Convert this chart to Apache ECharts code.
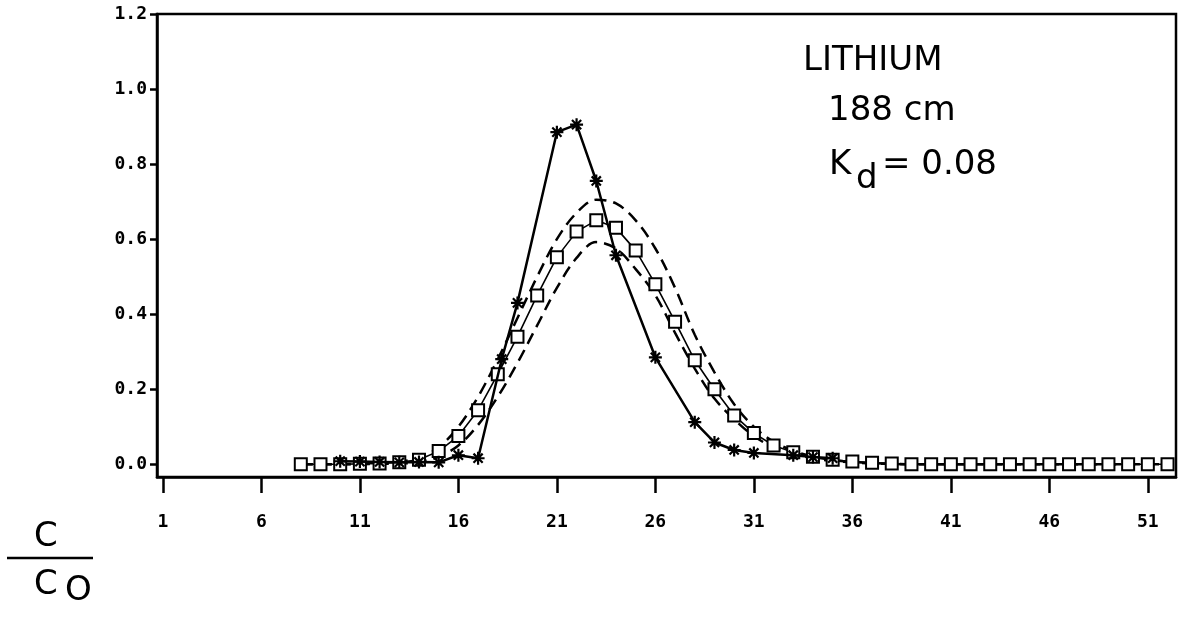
<!DOCTYPE html>
<html>
<head>
<meta charset="utf-8">
<title>Lithium breakthrough, 188 cm</title>
<script src="https://cdn.jsdelivr.net/npm/echarts@6/dist/echarts.min.js"></script>
<style>
  html, body { margin: 0; padding: 0; background: #fff; }
  #chart { width: 1181px; height: 618px; }
</style>
</head>
<body>
<div id="chart"></div>
<script>
// Tick positions and labels
const xTicks = [1, 6, 11, 16, 21, 26, 31, 36, 41, 46, 51];
const yTicks = [0, 0.2, 0.4, 0.6, 0.8, 1.0, 1.2];

// Model abscissa (one point per sample number)
const modelX = [8, 9, 10, 11, 12, 13, 14, 15, 16, 17, 18, 19, 20, 21, 22, 23, 24, 25, 26, 27, 28, 29, 30,
  31, 32, 33, 34, 35, 36, 37, 38, 39, 40, 41, 42, 43, 44, 45, 46, 47, 48, 49, 50, 51, 52];

// Model prediction (squares)
const modelY = [0, 0, 0, 0.001, 0.002, 0.005, 0.012, 0.035, 0.075, 0.144, 0.24, 0.34, 0.45, 0.552, 0.62,
  0.65, 0.63, 0.57, 0.48, 0.38, 0.277, 0.2, 0.13, 0.083, 0.05, 0.032, 0.02, 0.012, 0.007, 0.004, 0.002,
  0, 0, 0, 0, 0, 0, 0, 0, 0, 0, 0, 0, 0, 0];

// Upper and lower model bounds (dashed)
const upperY = [0, 0, 0, 0.001, 0.003, 0.007, 0.018, 0.045, 0.1, 0.18, 0.28, 0.39, 0.5, 0.6, 0.67,
  0.705, 0.695, 0.65, 0.575, 0.47, 0.345, 0.245, 0.16, 0.1, 0.06, 0.036, 0.02, 0.011, 0.006, 0.003, 0.001,
  0, 0, 0, 0, 0, 0, 0, 0, 0, 0, 0, 0, 0, 0];
const lowerY = [0, 0, 0, 0, 0.001, 0.002, 0.006, 0.02, 0.05, 0.105, 0.18, 0.27, 0.37, 0.47, 0.55,
  0.592, 0.575, 0.52, 0.45, 0.35, 0.255, 0.175, 0.12, 0.075, 0.045, 0.028, 0.016, 0.009, 0.005, 0.002, 0.001,
  0, 0, 0, 0, 0, 0, 0, 0, 0, 0, 0, 0, 0, 0];

// Measured concentrations (asterisks)
const obsX = [10, 11, 12, 13, 14, 15, 16, 17, 18.2, 19, 21, 22, 23, 24, 26, 28, 29, 30, 31, 33, 34, 35];
const obsY = [0.008, 0.007, 0.006, 0.005, 0.006, 0.005, 0.024, 0.016, 0.28, 0.43, 0.885, 0.905, 0.755,
  0.557, 0.285, 0.112, 0.058, 0.038, 0.03, 0.024, 0.019, 0.016];

const pairs = (xs, ys) => xs.map((x, i) => [x, ys[i]]);

const asterisk = 'path://M0,-10L0,10M-10,0L10,0M-7.07,-7.07L7.07,7.07M-7.07,7.07L7.07,-7.07';
const tickFont = { fontFamily: 'DejaVu Sans Mono', fontWeight: 'bold', fontSize: 18, color: '#000' };
const textFont = '34px "DejaVu Sans", sans-serif';

const chart = echarts.init(document.getElementById('chart'), null, { renderer: 'canvas' });

chart.setOption({
  animation: false,
  backgroundColor: '#fff',
  grid: {
    left: 157, top: 14, width: 1019, height: 463,
    show: true, borderColor: '#000', borderWidth: 2.5, backgroundColor: 'transparent'
  },
  xAxis: {
    type: 'value', min: 0.7, max: 52.43,
    splitLine: { show: false },
    axisLine: { show: true, onZero: false, lineStyle: { color: '#000', width: 2.5 } },
    axisTick: { show: true, customValues: xTicks, length: 16, lineStyle: { color: '#000', width: 2.5 } },
    axisLabel: { customValues: xTicks, margin: 36, ...tickFont }
  },
  yAxis: {
    type: 'value', min: -0.034, max: 1.2,
    splitLine: { show: false },
    axisLine: { show: true, onZero: false, lineStyle: { color: '#000', width: 2.5 } },
    axisTick: { show: true, customValues: yTicks, length: 7, lineStyle: { color: '#000', width: 2.5 } },
    axisLabel: { customValues: yTicks, margin: 10, formatter: v => v.toFixed(1), ...tickFont }
  },
  series: [
    {
      name: 'upper', type: 'line', data: pairs(modelX, upperY), smooth: 0.35,
      symbol: 'none', lineStyle: { color: '#000', width: 2.5, type: [12, 7] }, z: 2
    },
    {
      name: 'lower', type: 'line', data: pairs(modelX, lowerY), smooth: 0.35,
      symbol: 'none', lineStyle: { color: '#000', width: 2.5, type: [12, 7] }, z: 2
    },
    {
      name: 'model', type: 'line', data: pairs(modelX, modelY),
      symbol: 'rect', symbolSize: 12,
      itemStyle: { color: '#fff', borderColor: '#000', borderWidth: 2 },
      lineStyle: { color: '#000', width: 1.6 }, z: 3
    },
    {
      name: 'measured', type: 'line', data: pairs(obsX, obsY),
      symbol: asterisk, symbolSize: 13,
      itemStyle: { color: '#000', borderColor: '#000', borderWidth: 2.2 },
      lineStyle: { color: '#000', width: 2.5 }, z: 4
    }
  ],
  graphic: [
    { type: 'text', left: 803, top: 44, style: { text: 'LITHIUM', font: textFont, fill: '#000' } },
    { type: 'text', left: 828, top: 94, style: { text: '188 cm', font: textFont, fill: '#000' } },
    { type: 'text', left: 829, top: 148, style: { text: 'K', font: textFont, fill: '#000' } },
    { type: 'text', left: 856, top: 162, style: { text: 'd', font: textFont, fill: '#000' } },
    { type: 'text', left: 882, top: 148, style: { text: '= 0.08', font: textFont, fill: '#000' } },
    { type: 'text', left: 34, top: 520, style: { text: 'C', font: textFont, fill: '#000' } },
    { type: 'line', shape: { x1: 7, y1: 558, x2: 93, y2: 558 }, style: { stroke: '#000', lineWidth: 2.5 } },
    { type: 'text', left: 34, top: 568, style: { text: 'C', font: textFont, fill: '#000' } },
    { type: 'text', left: 65, top: 574, style: { text: 'O', font: textFont, fill: '#000' } }
  ]
});
</script>
</body>
</html>
